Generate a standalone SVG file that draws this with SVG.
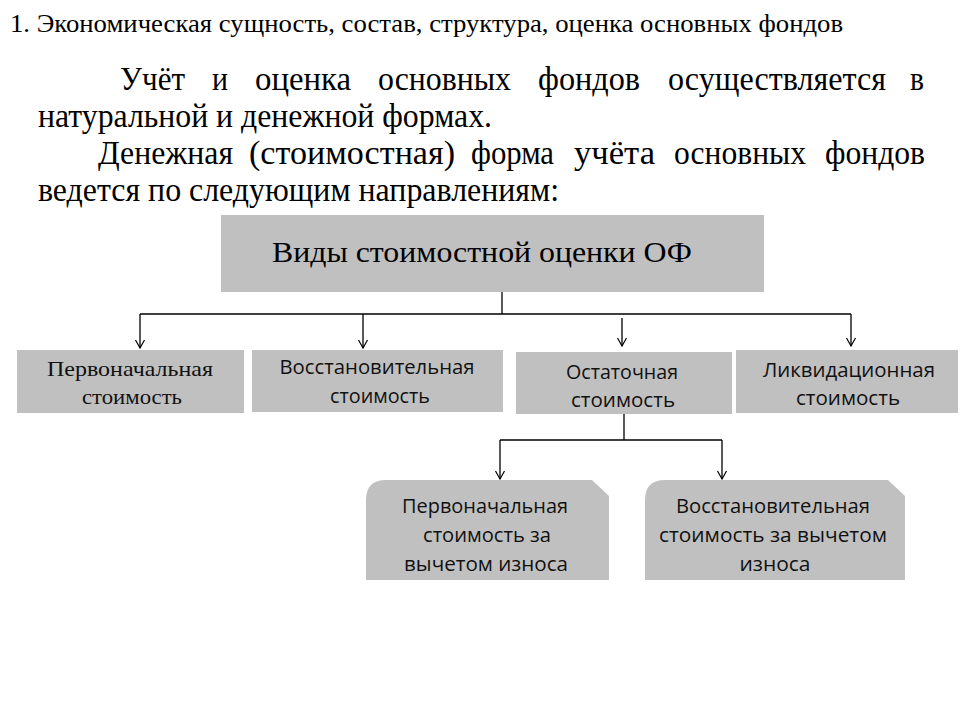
<svg xmlns="http://www.w3.org/2000/svg" width="960" height="720" viewBox="0 0 960 720">
<defs>
<style>
.serif{font-family:"Liberation Serif","Times New Roman",serif;fill:#000}
.sans{font-family:"Open Sans","Noto Sans","Liberation Sans",sans-serif;fill:#111;font-size:20px;text-anchor:middle}
.cam{font-family:"Liberation Serif","DejaVu Serif",serif;fill:#111;font-size:21px;text-anchor:middle}
.box{fill:#c0c0c0}
.p{font-size:33px}
.conn{fill:none;stroke:#000;stroke-width:1.3}
</style>
<marker id="arr" viewBox="0 0 12 12" refX="11" refY="6" markerWidth="12" markerHeight="12" markerUnits="userSpaceOnUse" orient="auto">
<polyline points="3,1.5 11,6 3,10.5" fill="none" stroke="#000" stroke-width="1.2"/>
</marker>
</defs>
<rect width="960" height="720" fill="#fff"/>
<g id="header">
<text class="serif" x="10" y="32" font-size="26" textLength="833" lengthAdjust="spacingAndGlyphs">1. Экономическая сущность, состав, структура, оценка основных фондов</text>
<text class="serif p" x="120" y="90" textLength="65" lengthAdjust="spacingAndGlyphs">Учёт</text>
<text class="serif p" x="212" y="90" textLength="16" lengthAdjust="spacingAndGlyphs">и</text>
<text class="serif p" x="255" y="90" textLength="96" lengthAdjust="spacingAndGlyphs">оценка</text>
<text class="serif p" x="378" y="90" textLength="133" lengthAdjust="spacingAndGlyphs">основных</text>
<text class="serif p" x="538" y="90" textLength="102" lengthAdjust="spacingAndGlyphs">фондов</text>
<text class="serif p" x="668" y="90" textLength="218" lengthAdjust="spacingAndGlyphs">осуществляется</text>
<text class="serif p" x="910" y="90" textLength="14" lengthAdjust="spacingAndGlyphs">в</text>
<text class="serif p" x="38" y="127" textLength="454" lengthAdjust="spacingAndGlyphs">натуральной и денежной формах.</text>
<text class="serif p" x="98" y="164" textLength="135" lengthAdjust="spacingAndGlyphs">Денежная</text>
<text class="serif p" x="249" y="164" textLength="206" lengthAdjust="spacingAndGlyphs">(стоимостная)</text>
<text class="serif p" x="471" y="164" textLength="83" lengthAdjust="spacingAndGlyphs">форма</text>
<text class="serif p" x="574" y="164" textLength="81" lengthAdjust="spacingAndGlyphs">учёта</text>
<text class="serif p" x="674" y="164" textLength="132" lengthAdjust="spacingAndGlyphs">основных</text>
<text class="serif p" x="825" y="164" textLength="100" lengthAdjust="spacingAndGlyphs">фондов</text>
<text class="serif p" x="38" y="201" textLength="521" lengthAdjust="spacingAndGlyphs">ведется по следующим направлениям:</text>
</g>
<g id="connectors" class="conn">
<polyline points="502,292 502,314"/>
<polyline points="140,314 851,314"/>
<polyline points="140,314 140,348" marker-end="url(#arr)"/>
<polyline points="363,314 363,348" marker-end="url(#arr)"/>
<polyline points="622,318 622,346" marker-end="url(#arr)"/>
<polyline points="851,314 851,346" marker-end="url(#arr)"/>
<polyline points="624,414 624,440"/>
<polyline points="500,440 722,440"/>
<polyline points="500,440 500,479" marker-end="url(#arr)"/>
<polyline points="722,440 722,479" marker-end="url(#arr)"/>
</g>
<g id="root">
<rect class="box" x="221" y="215" width="543" height="77"/>
<text class="serif" x="272" y="262" font-size="30" textLength="420" lengthAdjust="spacingAndGlyphs">Виды стоимостной оценки ОФ</text>
</g>
<g id="n1">
<rect class="box" x="17" y="350" width="227" height="63"/>
<text class="cam" x="130" y="376" textLength="166" lengthAdjust="spacingAndGlyphs">Первоначальная</text>
<text class="cam" x="132" y="404" textLength="100" lengthAdjust="spacingAndGlyphs">стоимость</text>
</g>
<g id="n2">
<rect class="box" x="252" y="350" width="251" height="62"/>
<text class="sans" x="377" y="374" textLength="195" lengthAdjust="spacingAndGlyphs">Восстановительная</text>
<text class="sans" x="380" y="403" textLength="100" lengthAdjust="spacingAndGlyphs">стоимость</text>
</g>
<g id="n3">
<rect class="box" x="516" y="352" width="216" height="62"/>
<text class="sans" x="622" y="379" textLength="112" lengthAdjust="spacingAndGlyphs">Остаточная</text>
<text class="sans" x="623" y="407" textLength="104" lengthAdjust="spacingAndGlyphs">стоимость</text>
</g>
<g id="n4">
<rect class="box" x="736" y="350" width="222" height="63"/>
<text class="sans" x="849" y="377" textLength="172" lengthAdjust="spacingAndGlyphs">Ликвидационная</text>
<text class="sans" x="848" y="405" textLength="104" lengthAdjust="spacingAndGlyphs">стоимость</text>
</g>
<g id="n5">
<path class="box" d="M386,480 H592 L609,496 V580 H366 V500 Q366,480 386,480 Z"/>
<text class="sans" x="485" y="513" textLength="166" lengthAdjust="spacingAndGlyphs">Первоначальная</text>
<text class="sans" x="487" y="542" textLength="128" lengthAdjust="spacingAndGlyphs">стоимость за</text>
<text class="sans" x="486" y="571" textLength="164" lengthAdjust="spacingAndGlyphs">вычетом износа</text>
</g>
<g id="n6">
<path class="box" d="M665,480 H888 L905,496 V580 H645 V500 Q645,480 665,480 Z"/>
<text class="sans" x="773" y="513" textLength="194" lengthAdjust="spacingAndGlyphs">Восстановительная</text>
<text class="sans" x="773" y="542" textLength="228" lengthAdjust="spacingAndGlyphs">стоимость за вычетом</text>
<text class="sans" x="775" y="571" textLength="71" lengthAdjust="spacingAndGlyphs">износа</text>
</g>
</svg>
